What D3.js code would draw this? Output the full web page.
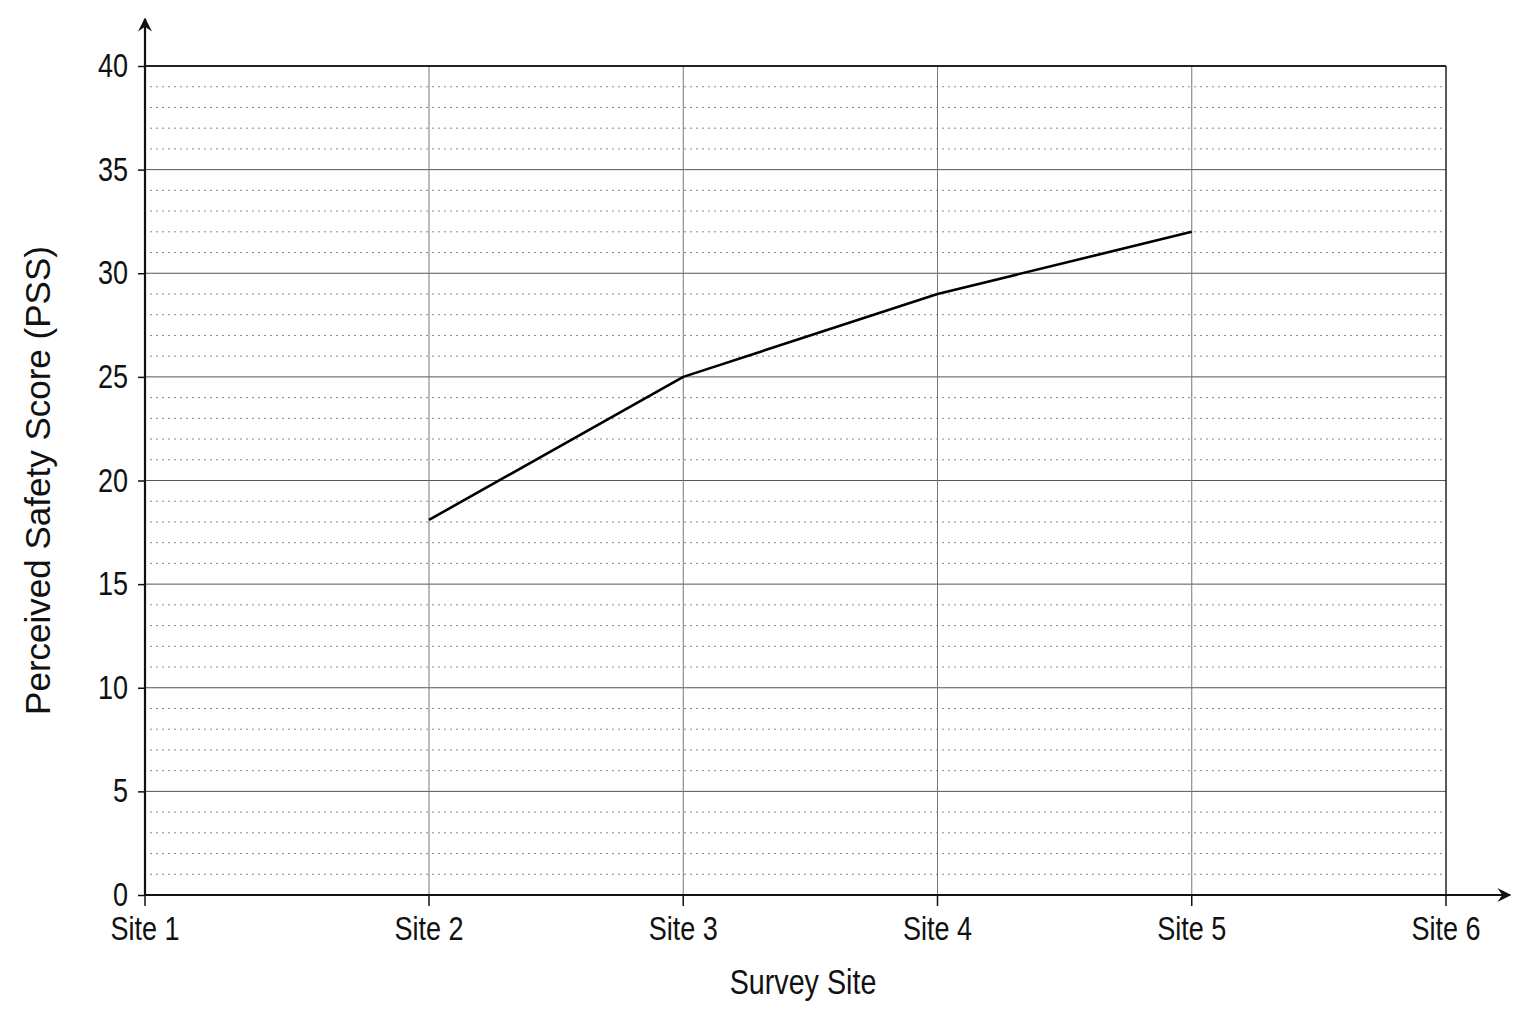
<!DOCTYPE html>
<html>
<head>
<meta charset="utf-8">
<script src="https://cdn.jsdelivr.net/npm/d3@7"></script>
<style>
  body { margin: 0; background: #fff; }
  svg { display: block; }
  .tick-label { font-family: "Liberation Sans", Arial, sans-serif; fill: #111; }
</style>
</head>
<body>
<div id="chart"></div>
<script>
// Chart data
const sites = ['Site 1', 'Site 2', 'Site 3', 'Site 4', 'Site 5', 'Site 6'];
const lineSites = ['Site 2', 'Site 3', 'Site 4', 'Site 5'];
const pssValues = [18.1, 25, 29, 32];
const yTicks = [0, 5, 10, 15, 20, 25, 30, 35, 40];

const width = 1536;
const height = 1024;
const margin = { top: 66, right: 90, bottom: 129, left: 145 };
const plotW = width - margin.left - margin.right;
const plotH = height - margin.top - margin.bottom;
const narrow = 0.82; // squeeze labels to look like a narrow face

const svg = d3.select('#chart')
  .append('svg')
  .attr('width', width)
  .attr('height', height);

// Site 1 sits a bit further out than the evenly spaced Sites 2-6
const siteIndex = d3.scaleLinear()
  .domain([0, 1, sites.length - 1])
  .range([0, 284, plotW]);
const x = name => siteIndex(sites.indexOf(name));

const y = d3.scaleLinear()
  .domain([0, 40])
  .range([plotH, 0]);

const g = svg.append('g')
  .attr('transform', `translate(${margin.left},${margin.top})`);

// Minor dotted grid every 1 unit
const minor = d3.range(1, 40).filter(v => v % 5 !== 0);
g.append('g')
  .selectAll('line')
  .data(minor)
  .enter()
  .append('line')
  .attr('x1', 5)
  .attr('x2', plotW - 2)
  .attr('y1', d => y(d))
  .attr('y2', d => y(d))
  .attr('stroke', '#888')
  .attr('stroke-width', 1)
  .attr('stroke-dasharray', '2,4');

// Major horizontal grid
g.append('g')
  .selectAll('line')
  .data(yTicks.filter(v => v > 0 && v < 40))
  .enter()
  .append('line')
  .attr('x1', 0)
  .attr('x2', plotW)
  .attr('y1', d => y(d))
  .attr('y2', d => y(d))
  .attr('stroke', '#555')
  .attr('stroke-width', 1);

// Vertical grid at inner sites
g.append('g')
  .selectAll('line')
  .data(sites.slice(1, -1))
  .enter()
  .append('line')
  .attr('x1', d => x(d))
  .attr('x2', d => x(d))
  .attr('y1', 0)
  .attr('y2', plotH)
  .attr('stroke', '#777')
  .attr('stroke-width', 1);

// Top and right border
g.append('line')
  .attr('x1', 0).attr('x2', plotW)
  .attr('y1', y(40)).attr('y2', y(40))
  .attr('stroke', '#222').attr('stroke-width', 2);
g.append('line')
  .attr('x1', plotW).attr('x2', plotW)
  .attr('y1', y(40)).attr('y2', plotH)
  .attr('stroke', '#222').attr('stroke-width', 1.5);

// Arrow marker
svg.append('defs')
  .append('marker')
  .attr('id', 'arrow')
  .attr('viewBox', '0 0 10 10')
  .attr('refX', 9)
  .attr('refY', 5)
  .attr('markerWidth', 16)
  .attr('markerHeight', 14)
  .attr('markerUnits', 'userSpaceOnUse')
  .attr('orient', 'auto')
  .append('path')
  .attr('d', 'M0,0 L10,5 L0,10 L3.5,5 Z')
  .attr('fill', '#111');

// Y axis ticks and labels
const yAxis = g.append('g')
  .call(d3.axisLeft(y).tickValues(yTicks).tickSize(7).tickSizeOuter(0).tickPadding(10));
yAxis.select('.domain').remove();
yAxis.selectAll('.tick line').attr('stroke', '#111').attr('stroke-width', 1.5);
yAxis.selectAll('text')
  .attr('class', 'tick-label')
  .attr('x', -17 / narrow)
  .attr('transform', `scale(${narrow},1)`)
  .style('font-size', '33px');

// X axis ticks and labels
const xAxis = g.append('g')
  .attr('transform', `translate(0,${plotH})`);
xAxis.selectAll('.tick')
  .data(sites)
  .enter()
  .append('g')
  .attr('class', 'tick')
  .attr('transform', d => `translate(${x(d)},0)`)
  .call(t => t.append('line').attr('y2', 11).attr('stroke', '#111').attr('stroke-width', 1.5))
  .call(t => t.append('text')
    .attr('class', 'tick-label')
    .attr('y', 45)
    .attr('text-anchor', 'middle')
    .attr('transform', `scale(${narrow},1)`)
    .style('font-size', '33px')
    .text(d => d));

// Axis lines with arrows
g.append('line')
  .attr('x1', 0).attr('x2', 0)
  .attr('y1', plotH + 1).attr('y2', -47)
  .attr('stroke', '#111').attr('stroke-width', 2.2)
  .attr('marker-end', 'url(#arrow)');
g.append('line')
  .attr('x1', -1).attr('x2', plotW + 64)
  .attr('y1', plotH).attr('y2', plotH)
  .attr('stroke', '#111').attr('stroke-width', 2.2)
  .attr('marker-end', 'url(#arrow)');

// Data line
const line = d3.line()
  .x(d => x(d.site))
  .y(d => y(d.value));
g.append('path')
  .datum(lineSites.map((s, i) => ({ site: s, value: pssValues[i] })))
  .attr('d', line)
  .attr('fill', 'none')
  .attr('stroke', '#000')
  .attr('stroke-width', 2.6)
  .attr('stroke-linejoin', 'round');

// Axis titles
svg.append('g')
  .attr('transform', `translate(803,994) scale(${narrow},1)`)
  .append('text')
  .attr('class', 'tick-label')
  .attr('text-anchor', 'middle')
  .style('font-size', '35px')
  .text('Survey Site');

svg.append('text')
  .attr('transform', `translate(50,${margin.top + plotH / 2}) rotate(-90)`)
  .attr('text-anchor', 'middle')
  .style('font-family', '"Liberation Sans", Arial, sans-serif')
  .style('font-size', '35px')
  .style('fill', '#111')
  .text('Perceived Safety Score (PSS)');
</script>
</body>
</html>
